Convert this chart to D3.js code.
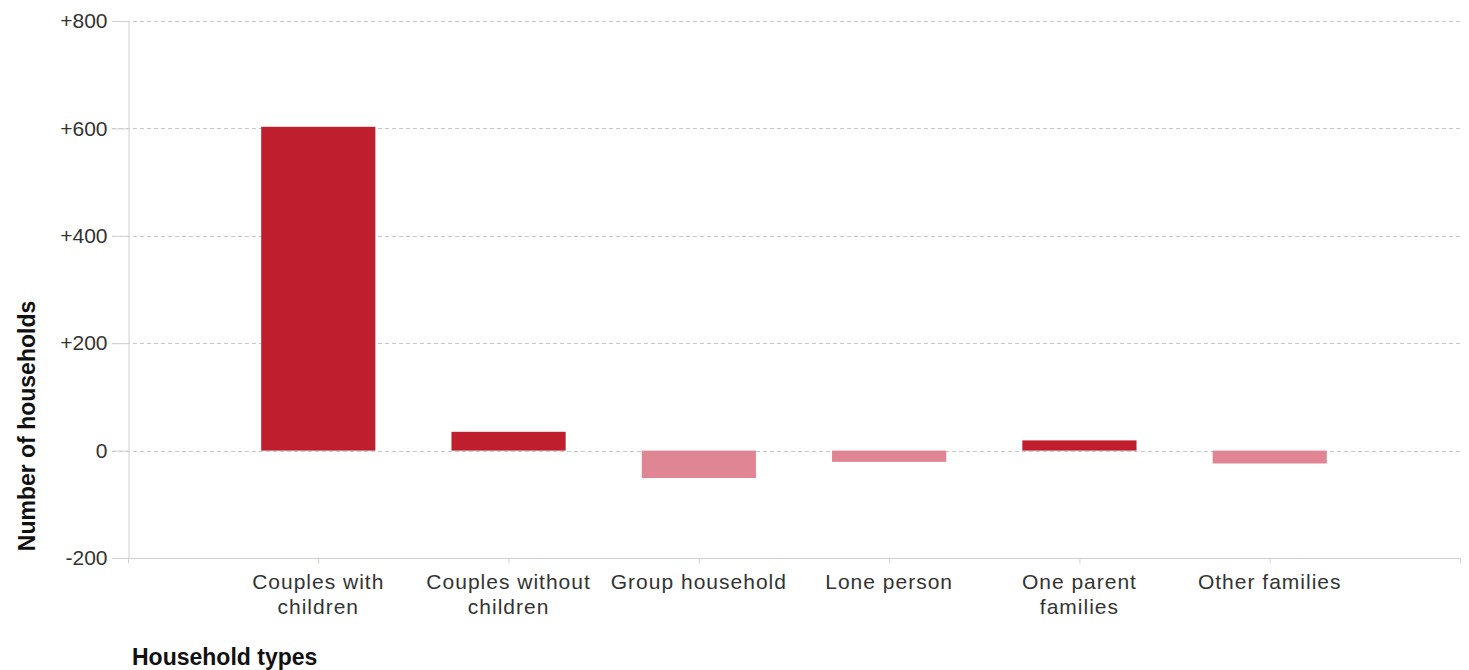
<!DOCTYPE html>
<html><head><meta charset="utf-8">
<script src="https://cdn.jsdelivr.net/npm/d3@7"></script>
<style>body{margin:0;background:#fff;font-family:"Liberation Sans",Arial,sans-serif;}</style>
</head><body>
<svg id="c" width="1469" height="670"></svg>
<script>
const categories = ["Couples with children","Couples without children","Group household","Lone person","One parent families","Other families"];
const labelLines = [["Couples with","children"],["Couples without","children"],["Group household"],["Lone person"],["One parent","families"],["Other families"]];
const values = [603, 35, -51, -21, 19, -24];
const yTicks = [-200, 0, 200, 400, 600, 800];
const yTickLabels = ["-200", "0", "+200", "+400", "+600", "+800"];

const svg = d3.select("#c");
const x = d3.scalePoint().domain(["_start", ...categories, "_end"]).range([128, 1460]);
const y = d3.scaleLinear().domain([-200, 800]).range([558, 21]);
const step = x.step();
const bw = step * 0.6;

// grid
svg.append("g").selectAll("line").data(yTicks.filter(t => t !== -200)).join("line")
  .attr("x1", 112).attr("x2", 1460)
  .attr("y1", d => Math.round(y(d)) + 0.5).attr("y2", d => Math.round(y(d)) + 0.5)
  .attr("stroke", "#c8c8c8").attr("stroke-dasharray", "4,3").attr("stroke-width", 1);

// y axis
const yAxis = d3.axisLeft(y).tickValues(yTicks).tickSize(16)
  .tickFormat((d, i) => yTickLabels[i]).tickPadding(5);
const gy = svg.append("g").attr("transform", "translate(128.5,0)").call(yAxis);
gy.select(".domain").attr("stroke", "#d0d0d0");
gy.selectAll(".tick line").attr("stroke", "#d0d0d0");
gy.selectAll(".tick text").attr("font-size", 21).attr("fill", "#333")
  .attr("font-family", "Liberation Sans, Arial, sans-serif");

// x axis
const xAxis = d3.axisBottom(x).tickSize(5).tickFormat("");
const gx = svg.append("g").attr("transform", "translate(0,558.5)").call(xAxis);
gx.select(".domain").attr("stroke", "#d0d0d0").attr("d", "M128,0H1460");
gx.selectAll(".tick line").attr("stroke", "#d0d0d0");

// bars
svg.append("g").selectAll("rect").data(values).join("rect")
  .attr("x", (d, i) => x(categories[i]) - bw / 2)
  .attr("width", bw)
  .attr("y", d => y(Math.max(0, d)))
  .attr("height", d => Math.abs(y(d) - y(0)))
  .attr("fill", d => d >= 0 ? "#be1e2d" : "#e08593");

// x labels
const xl = svg.append("g").selectAll("text").data(categories).join("text")
  .attr("x", d => x(d)).attr("y", 589)
  .attr("text-anchor", "middle").attr("font-size", 21).attr("letter-spacing", 1)
  .attr("fill", "#333");
xl.each(function(d, i) {
  const t = d3.select(this);
  labelLines[i].forEach((ln, j) => {
    t.append("tspan").attr("x", x(d)).attr("dy", j === 0 ? 0 : 25).text(ln);
  });
});

// titles
svg.append("text").attr("transform", "translate(35,426) rotate(-90)")
  .attr("text-anchor", "middle").attr("font-size", 23).attr("font-weight", "bold")
  .attr("fill", "#111").text("Number of households");
svg.append("text").attr("x", 132).attr("y", 665)
  .attr("font-size", 23).attr("font-weight", "bold").attr("fill", "#111").text("Household types");
</script>
</body></html>
